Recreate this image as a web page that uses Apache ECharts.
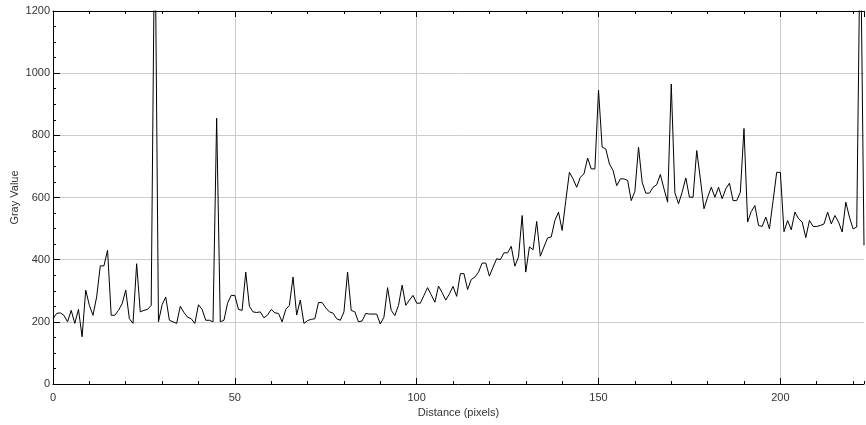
<!DOCTYPE html>
<html><head><meta charset="utf-8">
<script src="https://cdn.jsdelivr.net/npm/echarts@6/dist/echarts.min.js"></script>
<style>html,body{margin:0;padding:0;background:#fff}#c{width:866px;height:425px}</style>
</head><body><div id="c"></div>
<script>
// Gray value sampled at each pixel distance 0..223
const grayValues = [
  210,227,229,221,200,237,195,240,152,302,
  253,221,280,380,380,430,221,221,237,258,
  302,210,195,387,232,237,240,253,1550,200,
  255,280,205,200,195,250,230,215,210,195,
  255,240,205,205,200,855,200,205,260,285,
  285,240,237,360,250,232,230,232,213,222,
  240,229,227,200,240,253,344,222,270,195,
  204,208,210,262,262,245,232,228,210,205,
  232,360,237,232,200,203,227,225,225,225,
  193,215,310,237,220,253,318,253,270,285,
  260,260,285,310,287,263,315,294,270,290,
  314,282,355,355,304,336,344,360,389,389,
  347,376,403,400,422,422,443,379,409,542,
  360,441,432,523,411,441,470,473,526,553,
  494,590,681,660,633,665,676,727,692,692,
  945,762,756,708,687,638,660,660,655,590,
  620,762,649,614,614,633,641,674,628,585,
  965,615,580,617,663,601,601,751,660,564,
  601,633,601,633,596,628,646,590,590,617,
  822,521,555,574,510,507,537,499,590,681,
  681,490,526,496,553,532,521,471,526,507,
  507,510,515,553,515,542,521,489,585,537,
  499,505,1500,446
];
const xTickLabels = [0, 50, 100, 150, 200];
const yTickLabels = [0, 200, 400, 600, 800, 1000, 1200];
const xTitle = 'Distance (pixels)';
const yTitle = 'Gray Value';
const xMax = 223;
const yMax = 1200;

const FONT = 'Liberation Sans, Arial, sans-serif';
const chart = echarts.init(document.getElementById('c'), null, {renderer: 'canvas'});
const seriesData = grayValues.map((v, i) => [i, v]);

function tickAxis(position, interval, len, showLine) {
  return {
    type: 'value', position: position, min: 0, max: xMax, interval: interval,
    axisLine: {show: showLine, lineStyle: {color: '#000', width: 1}},
    axisTick: {show: true, inside: true, length: len, lineStyle: {color: '#000'}},
    axisLabel: {show: false},
    splitLine: {show: false}
  };
}

chart.setOption({
  animation: false,
  backgroundColor: '#fff',
  grid: {left: 53, right: 2, top: 11, bottom: 41, containLabel: false, outerBoundsMode: 'none'},
  xAxis: [
    {
      type: 'value', position: 'bottom', min: 0, max: xMax, interval: 50,
      axisLine: {show: true, onZero: false, lineStyle: {color: '#000', width: 1}},
      axisTick: {show: true, inside: true, length: 6, lineStyle: {color: '#000'}},
      axisLabel: {
        margin: 8, color: '#333', fontSize: 11, fontFamily: FONT,
        formatter: v => (xTickLabels.indexOf(v) >= 0 ? String(v) : ''),
        showMaxLabel: false
      },
      splitLine: {show: true, showMinLine: false, showMaxLine: false, lineStyle: {color: '#cccccc', width: 1}},
      name: xTitle, nameLocation: 'middle', nameGap: 23, nameMoveOverlap: false,
      nameTextStyle: {color: '#333', fontSize: 11, fontFamily: FONT}
    },
    tickAxis('bottom', 10, 3, false),
    tickAxis('top', 10, 3, true),
    tickAxis('top', 50, 6, false)
  ],
  yAxis: [{
    type: 'value', min: 0, max: yMax, interval: 200,
    axisLine: {show: true, onZero: false, lineStyle: {color: '#000', width: 1}},
    axisTick: {show: true, inside: true, length: 7, lineStyle: {color: '#000'}},
    minorTick: {show: true, splitNumber: 4, length: 3, lineStyle: {color: '#000'}},
    axisLabel: {
      margin: 3, color: '#333', fontSize: 11, fontFamily: FONT,
      formatter: v => (yTickLabels.indexOf(v) >= 0 ? String(v) : '')
    },
    splitLine: {show: true, showMinLine: false, showMaxLine: false, lineStyle: {color: '#cccccc', width: 1}},
    name: yTitle, nameLocation: 'middle', nameGap: 33, nameRotate: 90, nameMoveOverlap: false,
    nameTextStyle: {color: '#333', fontSize: 11, fontFamily: FONT}
  }],
  series: [{
    type: 'line',
    xAxisIndex: 0, yAxisIndex: 0,
    data: seriesData,
    showSymbol: false,
    symbol: 'none',
    clip: true,
    lineStyle: {color: '#000', width: 1},
    emphasis: {disabled: true}
  }]
});
</script>
</body></html>
